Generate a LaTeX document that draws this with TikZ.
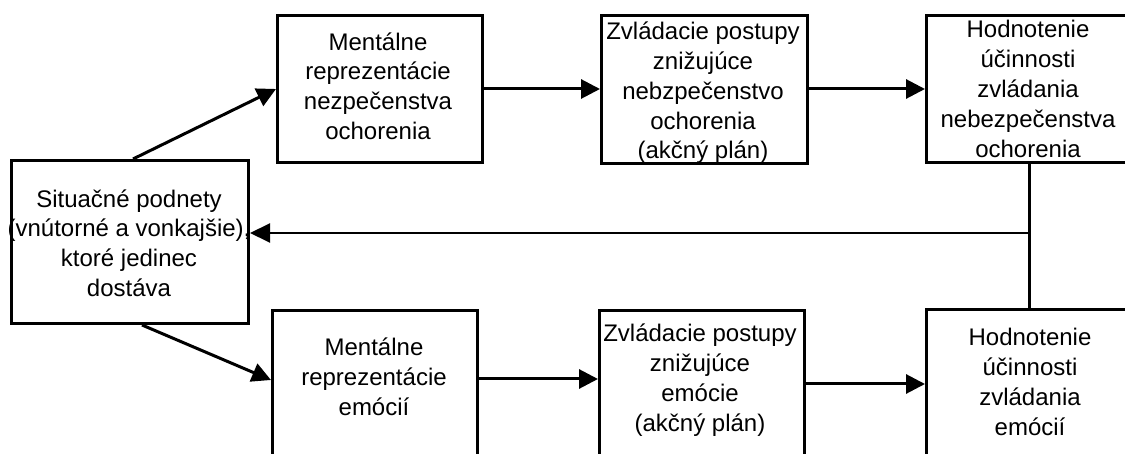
\documentclass[tikz,border=0pt]{standalone}
\usepackage{fontspec}
\setmainfont{Liberation Sans}
\usetikzlibrary{arrows.meta,calc}
\begin{document}
\begin{tikzpicture}[x=1pt,y=-1pt,
 box/.style={draw,line width=3pt,rectangle,inner sep=0pt,anchor=north west},
 txt/.style={align=center,font=\fontsize{24}{29.8}\selectfont,inner sep=0pt},
 arr/.style={line width=3pt,-{Triangle[length=19pt,width=19pt]}},
 thinarr/.style={line width=2pt,-{Triangle[length=20pt,width=19pt]}},
 thinline/.style={line width=2.5pt}]
\useasboundingbox (0,0) rectangle (1125,454);
\clip (0,0) rectangle (1125,454);
\fill[white] (0,0) rectangle (1125,454);
% boxes
\node[box,minimum width=237pt,minimum height=163pt] (A) at (10,159) {};
\node[box,minimum width=205pt,minimum height=147pt] (B) at (276,14) {};
\node[box,minimum width=206pt,minimum height=148pt] (C) at (600,14) {};
\node[box,minimum width=206pt,minimum height=147pt] (D) at (925,14) {};
\node[box,minimum width=205pt,minimum height=200pt] (E) at (271,309) {};
\node[box,minimum width=205pt,minimum height=200pt] (F) at (598,309) {};
\node[box,minimum width=206pt,minimum height=200pt] (G) at (925,308) {};
% texts
\node[txt] (At) at (129,243) {Situačné podnety\\(vnútorné a vonkajšie),\\ktoré jedinec\\dostáva};
\node[txt] (Bt) at (378,86) {Mentálne\\reprezentácie\\nezpečenstva\\ochorenia};
\node[txt] (Ct) at (703,93) {Zvládacie postupy\\znižujúce\\nebzpečenstvo\\ochorenia\\(akčný plán)};
\node[txt] (Dt) at (1028,89) {Hodnotenie\\účinnosti\\zvládania\\nebezpečenstva\\ochorenia};
\node[txt] (Et) at (374,377) {Mentálne\\reprezentácie\\emócií};
\node[txt] (Ft) at (700,380) {Zvládacie postupy\\znižujúce\\emócie\\(akčný plán)};
\node[txt] (Gt) at (1030,382) {Hodnotenie\\účinnosti\\zvládania\\emócií};
% connectors
\coordinate (ae) at ($(E.north west)+(0,71)$);
\coordinate (ef) at ($(E.north east)+(0,70)$);
\coordinate (fg) at ($(F.north east)+(0,75)$);
\coordinate (fbh) at (0,233);
\coordinate (fb) at (D.south |- fbh);
\draw[arr] ($(A.north)+(3,0)$) -- (B.west);
\draw[arr] ($(A.south)+(12,0)$) -- (ae);
\draw[arr] (B.east) -- (B.east -| C.west);
\draw[arr] (B.east -| C.east) -- (B.east -| D.west);
\draw[arr] (ef) -- (ef -| F.west);
\draw[arr] (fg) -- (fg -| G.west);
\draw[thinline] (D.south) -- (G.north);
\draw[thinarr] (fb) -- (fb -| A.east);
\end{tikzpicture}
\end{document}
